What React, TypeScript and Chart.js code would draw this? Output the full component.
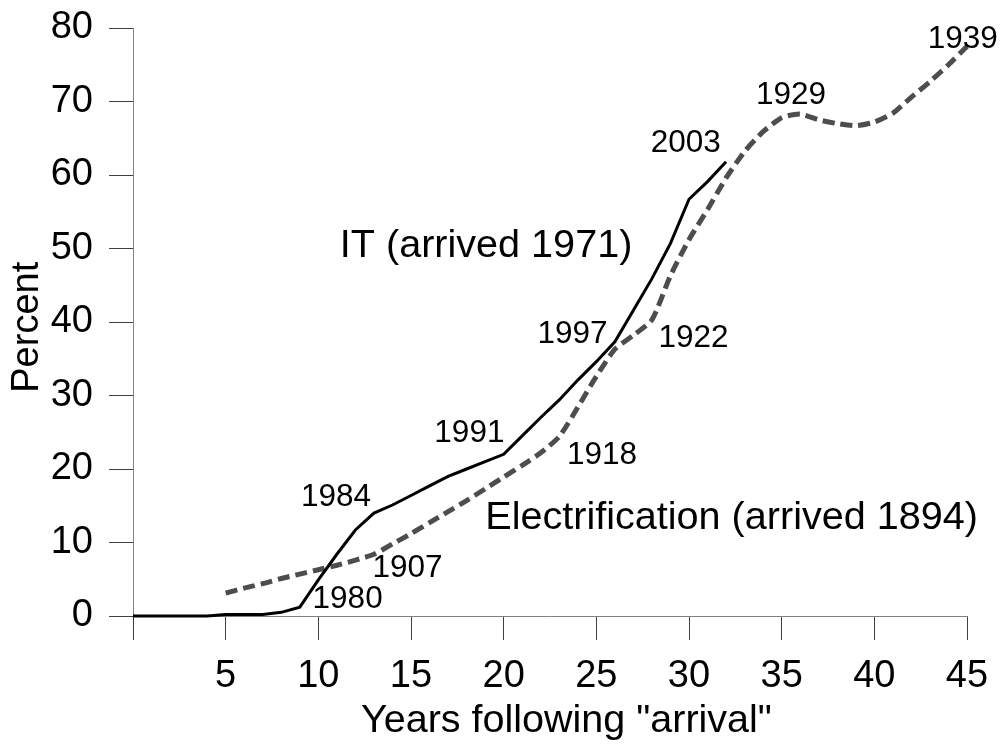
import { useEffect, useRef } from "react";
import { Chart, registerables } from "chart.js";

Chart.register(...registerables);

const FONT = '"Liberation Sans", Arial, Helvetica, sans-serif';

// IT diffusion (arrived 1971): years after arrival and percent
const itYears = [
  0, 1, 2, 3, 4, 5, 6, 7, 8, 9, 10, 11, 12, 13, 14, 15, 16, 17, 18, 19, 20,
  21, 22, 23, 24, 25, 26, 27, 28, 29, 30, 31, 32,
];
const itValues = [
  0, 0, 0, 0, 0, 0.2, 0.2, 0.2, 0.5, 1.2, 4.9, 8.4, 11.7, 14.0, 15.1, 16.4,
  17.7, 19.0, 20.0, 21.0, 22.0, 24.5, 27.0, 29.4, 32.1, 34.6, 37.3, 41.6, 45.9,
  50.7, 56.7, 59.1, 61.8,
];

// Electrification (arrived 1894)
const elecYears = [
  5, 6, 7, 8, 9, 10, 11, 12, 13, 14, 15, 16, 17, 18, 19, 20, 21, 22, 23, 24,
  25, 26, 27, 28, 29, 30, 31, 32, 33, 34, 35, 36, 37, 38, 39, 40, 41, 42, 43,
  44, 45,
];
const elecValues = [
  3.1, 3.8, 4.4, 5.1, 5.7, 6.3, 6.9, 7.6, 8.4, 9.8, 11.2, 12.7, 14.2, 15.7,
  17.3, 18.9, 20.5, 22.2, 24.4, 28.4, 32.6, 36.3, 38.2, 40.3, 46.3, 51.2, 55.3,
  59.6, 63.2, 65.9, 67.8, 68.3, 67.5, 67.0, 66.7, 67.2, 68.4, 70.6, 72.7, 75.0,
  77.5,
];

// Axis ranges and tick steps
const xMin = 0;
const xMax = 45;
const xStep = 5;
const yMin = 0;
const yMax = 80;
const yStep = 10;

// Text labels on the chart (anchored in data units)
const labelTexts = [
  "1980", "1984", "1907", "1991", "1918", "1997", "1922", "2003", "1929", "1939",
  "IT (arrived 1971)", "Electrification (arrived 1894)",
];
const labelYears = [11.58, 10.95, 14.81, 18.15, 25.31, 23.71, 30.24, 29.83, 35.5, 44.77, 19.05, 32.3];
const labelPercents = [2.24, 16.16, 6.46, 24.79, 21.86, 38.3, 37.8, 64.3, 70.9, 78.5, 50.3, 13.27];

const annotationPlugin = {
  id: "textAnnotations",
  afterDatasetsDraw(chart: any) {
    const { ctx, scales } = chart;
    const xs = scales.x;
    const ys = scales.y;
    ctx.save();
    ctx.fillStyle = "#000";
    ctx.textAlign = "center";
    ctx.textBaseline = "middle";
    labelTexts.forEach((t, i) => {
      const big = t.length > 4;
      ctx.font = `${big ? 39.6 : 31.5}px ${FONT}`;
      ctx.fillText(t, xs.getPixelForValue(labelYears[i]), ys.getPixelForValue(labelPercents[i]));
    });
    ctx.restore();
  },
};

export default function App() {
  const canvasRef = useRef<HTMLCanvasElement | null>(null);

  useEffect(() => {
    if (!canvasRef.current) return;
    const chart = new Chart(canvasRef.current, {
      type: "line",
      data: {
        datasets: [
          {
            label: "IT",
            data: itYears.map((x, i) => ({ x, y: itValues[i] })),
            borderColor: "#000",
            borderWidth: 3,
            pointRadius: 0,
            tension: 0,
            fill: false,
            clip: false as any,
          },
          {
            label: "Electrification",
            data: elecYears.map((x, i) => ({ x, y: elecValues[i] })),
            borderColor: "#4d4d4d",
            borderWidth: 5,
            borderDash: [12, 6],
            borderCapStyle: "butt",
            pointRadius: 0,
            tension: 0.2,
            fill: false,
            clip: false as any,
          },
        ],
      },
      options: {
        animation: false,
        responsive: true,
        maintainAspectRatio: false,
        layout: { padding: { top: 28, right: 34, left: 0, bottom: 0 } },
        plugins: {
          legend: { display: false },
          tooltip: { enabled: false },
        },
        scales: {
          x: {
            type: "linear",
            min: xMin,
            max: xMax,
            afterFit: (s: any) => {
              s.height = 128;
              s.paddingLeft = 0;
              s.paddingRight = 0;
            },
            ticks: {
              stepSize: xStep,
              autoSkip: false,
              maxRotation: 0,
              color: "#000",
              padding: 18,
              font: { family: FONT, size: 38, lineHeight: 1 },
              callback: (v: any) => (Number(v) === 0 ? "" : String(v)),
            },
            grid: {
              display: true,
              drawOnChartArea: false,
              drawTicks: true,
              tickLength: 24,
              tickColor: "#404040",
              tickWidth: 1,
            },
            border: { display: true, color: "#808080", width: 1 },
            title: {
              display: true,
              text: '   Years following "arrival"',
              color: "#000",
              font: { family: FONT, size: 39.5, lineHeight: 1 },
              padding: { top: 0, bottom: 3 },
            },
          },
          y: {
            type: "linear",
            min: yMin,
            max: yMax,
            afterFit: (s: any) => {
              s.width = 133;
              s.paddingTop = 0;
              s.paddingBottom = 0;
            },
            ticks: {
              stepSize: yStep,
              color: "#000",
              padding: 16,
              font: { family: FONT, size: 38, lineHeight: 1 },
            },
            grid: {
              display: true,
              drawOnChartArea: false,
              drawTicks: true,
              tickLength: 24,
              tickColor: "#404040",
              tickWidth: 1,
            },
            border: { display: true, color: "#808080", width: 1 },
            title: {
              display: true,
              text: "Percent ",
              color: "#000",
              font: { family: FONT, size: 38, lineHeight: 1 },
              padding: { top: 8.5, bottom: 0 },
            },
          },
        },
      },
      plugins: [annotationPlugin],
    });
    return () => chart.destroy();
  }, []);

  return (
    <div style={{ position: "fixed", left: 0, top: 0, width: 1001, height: 744, background: "#fff" }}>
      <canvas ref={canvasRef} />
    </div>
  );
}
